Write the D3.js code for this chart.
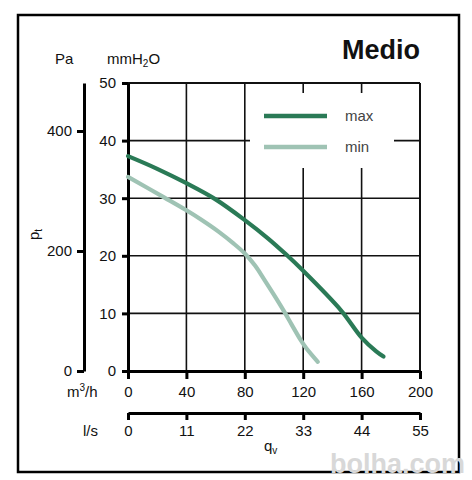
<!DOCTYPE html>
<html>
<head>
<meta charset="utf-8">
<script src="https://cdn.jsdelivr.net/npm/d3@7"></script>
<style>
  body { margin: 0; background: #fff; }
  text { font-family: "Liberation Sans", Arial, sans-serif; }
</style>
</head>
<body>
<svg width="472" height="480"></svg>
<script>
// tick labels
var flowM3h = [0, 40, 80, 120, 160, 200];
var flowLs = [0, 11, 22, 33, 44, 55];
var pressMm = [0, 10, 20, 30, 40, 50];
var pressPa = [0, 200, 400];

// curves (m3/h, mmH2O)
var maxQ = [0, 20, 40, 60, 80, 96, 108, 120, 146, 160, 170, 175];
var maxP = [37.3, 35.1, 32.6, 29.8, 26.2, 23.0, 20.3, 17.4, 10.5, 5.8, 3.4, 2.5];
var minQ = [0, 25, 40, 50, 62, 72, 80, 87, 93, 100, 107, 112, 118, 122, 130];
var minP = [33.7, 30.1, 27.9, 26.3, 24.2, 22.2, 20.4, 18.3, 16.0, 13.2, 10.3, 8.1, 5.5, 4.0, 1.6];

var seriesNames = ["max", "min"];
var seriesColors = ["#2a7a56", "#9fc3b4"];

var svg = d3.select("svg");

var x = d3.scaleLinear().domain([0, 200]).range([128, 420]);
var xLs = d3.scaleLinear().domain([0, 55]).range([128, 420]);
var y = d3.scaleLinear().domain([0, 50]).range([371, 83]);
var yPa = d3.scaleLinear().domain([0, 480]).range([371, 83]);

// outer frame
svg.append("rect")
  .attr("x", 18).attr("y", 15)
  .attr("width", 441).attr("height", 457)
  .attr("fill", "none")
  .attr("stroke", "#000")
  .attr("stroke-width", 2.5);

// grid
svg.append("g").selectAll("line")
  .data(pressMm.slice(1))
  .enter().append("line")
  .attr("x1", x(0)).attr("x2", x(200))
  .attr("y1", function(d) { return y(d); })
  .attr("y2", function(d) { return y(d); })
  .attr("stroke", "#111")
  .attr("stroke-width", function(d) { return d == 50 ? 2 : 1.6; });

svg.append("g").selectAll("line")
  .data(flowM3h.slice(1))
  .enter().append("line")
  .attr("x1", function(d) { return x(d); })
  .attr("x2", function(d) { return x(d); })
  .attr("y1", y(50)).attr("y2", y(0))
  .attr("stroke", "#111")
  .attr("stroke-width", function(d) { return d == 200 ? 2 : 1.6; });

// white legend box breaks the grid
svg.append("rect")
  .attr("x", 250).attr("y", 93)
  .attr("width", 144).attr("height", 75)
  .attr("fill", "#fff");

function styleAxis(g, w) {
  g.select(".domain").attr("stroke", "#000").attr("stroke-width", w);
  g.selectAll(".tick line").attr("stroke", "#000").attr("stroke-width", w);
  g.selectAll(".tick text")
    .attr("fill", "#111")
    .style("font-size", "15px")
    .style("font-family", "'Liberation Sans', Arial, sans-serif");
}

// mmH2O axis
svg.append("g")
  .attr("transform", "translate(" + x(0) + ",0)")
  .call(d3.axisLeft(y).tickValues(pressMm).tickSize(6).tickSizeOuter(0).tickPadding(6))
  .call(styleAxis, 3);

// Pa axis
svg.append("g")
  .attr("transform", "translate(84,0)")
  .call(d3.axisLeft(yPa).tickValues(pressPa).tickSize(7).tickSizeOuter(0).tickPadding(5))
  .call(styleAxis, 3);

// m3/h axis
svg.append("g")
  .attr("transform", "translate(0," + y(0) + ")")
  .call(d3.axisBottom(x).tickValues(flowM3h).tickSize(8).tickSizeOuter(0).tickPadding(7))
  .call(styleAxis, 3);

// l/s axis
svg.append("g")
  .attr("transform", "translate(0,413)")
  .call(d3.axisBottom(xLs).tickValues(flowLs).tickSize(7).tickSizeOuter(0).tickPadding(5))
  .call(styleAxis, 3);

// curves
var line = d3.line()
  .x(function(d) { return x(d[0]); })
  .y(function(d) { return y(d[1]); })
  .curve(d3.curveCatmullRom);

var curves = [d3.zip(maxQ, maxP), d3.zip(minQ, minP)];

svg.append("g").selectAll("path")
  .data(curves)
  .enter().append("path")
  .attr("d", line)
  .attr("fill", "none")
  .attr("stroke", function(d, i) { return seriesColors[i]; })
  .attr("stroke-width", 4.2)
  .attr("stroke-linecap", "round")
  .attr("stroke-linejoin", "round");

// legend
var leg = svg.append("g").selectAll("g")
  .data(seriesNames)
  .enter().append("g")
  .attr("transform", function(d, i) { return "translate(0," + (116 + i * 31) + ")"; });

leg.append("line")
  .attr("x1", 264).attr("x2", 327)
  .attr("stroke", function(d, i) { return seriesColors[i]; })
  .attr("stroke-width", 4.5);

leg.append("text")
  .text(function(d) { return d; })
  .attr("x", 345).attr("y", 5)
  .attr("fill", "#444")
  .style("font-size", "15px");

// labels
svg.append("text")
  .text("Medio")
  .attr("x", 420).attr("y", 59)
  .attr("text-anchor", "end")
  .attr("font-weight", "bold")
  .style("font-size", "27px")
  .attr("fill", "#111");

svg.append("text")
  .text("Pa")
  .attr("x", 55).attr("y", 64)
  .style("font-size", "15px")
  .attr("fill", "#111");

var mm = svg.append("text")
  .attr("x", 107).attr("y", 64)
  .style("font-size", "15px")
  .attr("fill", "#111");
mm.append("tspan").text("mmH");
mm.append("tspan").text("2").attr("dy", 3).style("font-size", "10px");
mm.append("tspan").text("O").attr("dy", -3);

var pt = svg.append("text")
  .attr("transform", "translate(39,240) rotate(-90)")
  .style("font-size", "15px")
  .attr("fill", "#111");
pt.append("tspan").text("p");
pt.append("tspan").text("t").attr("dy", 3).style("font-size", "10px");

var m3 = svg.append("text")
  .attr("x", 67).attr("y", 397)
  .style("font-size", "15px")
  .attr("fill", "#111");
m3.append("tspan").text("m");
m3.append("tspan").text("3").attr("dy", -6).style("font-size", "10px");
m3.append("tspan").text("/h").attr("dy", 6);

svg.append("text")
  .text("l/s")
  .attr("x", 83).attr("y", 436)
  .style("font-size", "15px")
  .attr("fill", "#111");

var qv = svg.append("text")
  .attr("x", 264).attr("y", 451)
  .style("font-size", "15px")
  .attr("fill", "#111");
qv.append("tspan").text("q");
qv.append("tspan").text("v").attr("dy", 3).style("font-size", "10px");

// watermark
svg.append("text")
  .text("bolha.com")
  .attr("x", 330).attr("y", 473)
  .attr("font-weight", "bold")
  .style("font-size", "27px")
  .attr("fill", "#d8d8d8");
</script>
</body>
</html>
